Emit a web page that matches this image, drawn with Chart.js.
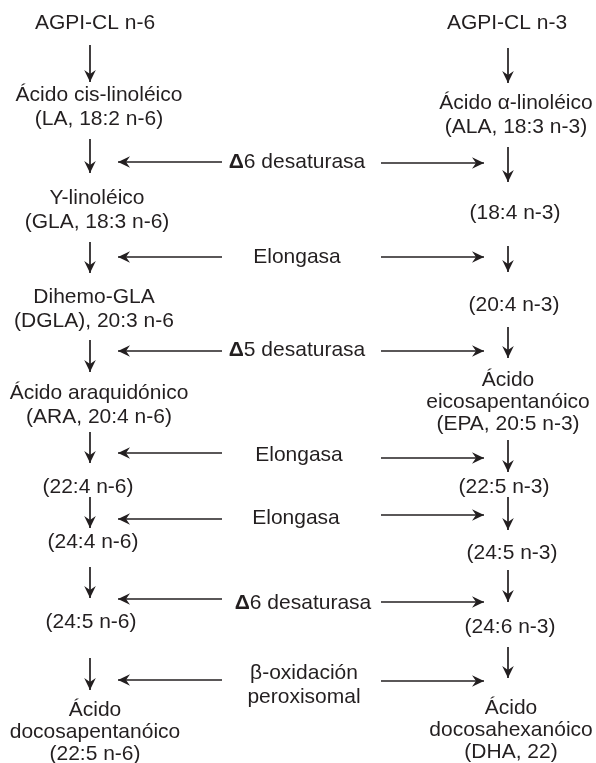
<!DOCTYPE html>
<html>
<head>
<meta charset="utf-8">
<script src="https://cdn.jsdelivr.net/npm/chart.js@4/dist/chart.umd.min.js"></script>
<style>
  html, body { margin: 0; padding: 0; background: #ffffff; }
  #chart { display: block; }
</style>
</head>
<body>
<canvas id="chart" width="596" height="763"></canvas>
<script>
// columna n-6 (izquierda)
const leftNames = ['AGPI-CL n-6', 'Ácido cis-linoléico\n(LA, 18:2 n-6)', 'Y-linoléico\n(GLA, 18:3 n-6)',
    'Dihemo-GLA\n(DGLA), 20:3 n-6', 'Ácido araquidónico\n(ARA, 20:4 n-6)', '(22:4 n-6)', '(24:4 n-6)',
    '(24:5 n-6)', 'Ácido\ndocosapentanóico\n(22:5 n-6)'];
const leftNameX = [95, 99, 97, 94, 99, 88, 93, 91, 95];
const leftNameY = [23, 95, 198, 297, 393, 487, 542, 622, 710];

// columna n-3 (derecha)
const rightNames = ['AGPI-CL n-3', 'Ácido α-linoléico\n(ALA, 18:3 n-3)', '(18:4 n-3)', '(20:4 n-3)',
    'Ácido\neicosapentanóico\n(EPA, 20:5 n-3)', '(22:5 n-3)', '(24:5 n-3)', '(24:6 n-3)',
    'Ácido\ndocosahexanóico\n(DHA, 22)'];
const rightNameX = [507, 516, 515, 514, 508, 504, 512, 510, 511];
const rightNameY = [23, 103, 213, 305, 380, 487, 553, 627, 708];

// enzimas (centro)
const enzymes = ['Δ6 desaturasa', 'Elongasa', 'Δ5 desaturasa', 'Elongasa', 'Elongasa', 'Δ6 desaturasa',
    'β-oxidación\nperoxisomal'];
const enzymeX = [297, 297, 297, 299, 296, 303, 304];
const enzymeY = [162, 257, 350, 455, 518, 603, 673];

// flechas verticales: [inicio, fin]
const leftStepX = 90;
const leftSteps = [[45, 82], [139, 173], [242, 273], [340, 372], [432, 463], [497, 528], [567, 598], [658, 690]];
const rightStepX = 508;
const rightSteps = [[48, 83], [147, 182], [246, 272], [327, 358], [440, 472], [497, 530], [570, 602], [647, 678]];

// flechas horizontales desde las enzimas
const leftArrowX = [222, 118];
const leftArrowY = [162, 257, 351, 453, 519, 599, 680];
const rightArrowX = [381, 484];
const rightArrowY = [163, 257, 351, 458, 515, 602, 681];

const INK = '#231f20';
const FONT = '"Liberation Sans", Arial, sans-serif';

const datasets = [];

function addArrow(x0, y0, x1, y1) {
    datasets.push({
        kind: 'arrow',
        data: [{ x: x0, y: y0 }, { x: x1, y: y1 }],
        showLine: true,
        borderColor: INK,
        borderWidth: 1.7,
        pointRadius: 0,
        borderCapStyle: 'butt'
    });
}

leftSteps.forEach(s => addArrow(leftStepX, s[0], leftStepX, s[1]));
rightSteps.forEach(s => addArrow(rightStepX, s[0], rightStepX, s[1]));
leftArrowY.forEach(y => addArrow(leftArrowX[0], y, leftArrowX[1], y));
rightArrowY.forEach(y => addArrow(rightArrowX[0], y, rightArrowX[1], y));

function addLabels(names, xs, ys) {
    datasets.push({
        kind: 'label',
        texts: names,
        data: names.map((n, i) => ({ x: xs[i], y: ys[i] })),
        showLine: false,
        pointRadius: 0
    });
}

addLabels(leftNames, leftNameX, leftNameY);
addLabels(rightNames, rightNameX, rightNameY);
addLabels(enzymes, enzymeX, enzymeY);

function drawHead(ctx, ax, ay, bx, by) {
    const ang = Math.atan2(by - ay, bx - ax);
    const len = 12, half = 5.8, notch = 4;
    ctx.save();
    ctx.translate(bx, by);
    ctx.rotate(ang);
    ctx.beginPath();
    ctx.moveTo(0, 0);
    ctx.lineTo(-len, -half);
    ctx.lineTo(-len + notch, 0);
    ctx.lineTo(-len, half);
    ctx.closePath();
    ctx.fillStyle = INK;
    ctx.fill();
    ctx.restore();
}

function drawLine(ctx, text, cx, cy) {
    const normal = '21px ' + FONT;
    const bold = 'bold 21px ' + FONT;
    ctx.textBaseline = 'middle';
    ctx.textAlign = 'left';
    if (text.startsWith('Δ')) {
        ctx.font = bold;
        const wd = ctx.measureText('Δ').width;
        ctx.font = normal;
        const rest = text.slice(1);
        const wr = ctx.measureText(rest).width;
        const x0 = cx - (wd + wr) / 2;
        ctx.font = bold;
        ctx.fillText('Δ', x0, cy);
        ctx.font = normal;
        ctx.fillText(rest, x0 + wd, cy);
    } else {
        ctx.font = normal;
        const w = ctx.measureText(text).width;
        ctx.fillText(text, cx - w / 2, cy);
    }
}

const diagramPlugin = {
    id: 'diagram',
    afterDatasetsDraw(chart) {
        const ctx = chart.ctx;
        ctx.save();
        ctx.fillStyle = INK;
        chart.data.datasets.forEach((ds, i) => {
            const pts = chart.getDatasetMeta(i).data;
            if (ds.kind === 'arrow') {
                const a = pts[0], b = pts[pts.length - 1];
                drawHead(ctx, a.x, a.y, b.x, b.y);
            } else if (ds.kind === 'label') {
                pts.forEach((p, j) => {
                    const lines = ds.texts[j].split('\n');
                    const gap = lines.length > 2 ? 22 : 24.5;
                    ctx.fillStyle = INK;
                    lines.forEach((ln, k) => drawLine(ctx, ln, p.x, p.y + k * gap));
                });
            }
        });
        ctx.restore();
    }
};

new Chart(document.getElementById('chart').getContext('2d'), {
    type: 'scatter',
    data: { datasets: datasets },
    options: {
        responsive: false,
        animation: false,
        layout: { padding: 0 },
        plugins: {
            legend: { display: false },
            tooltip: { enabled: false }
        },
        scales: {
            x: { type: 'linear', min: 0, max: 596, display: false },
            y: { type: 'linear', min: 0, max: 763, reverse: true, display: false }
        }
    },
    plugins: [diagramPlugin]
});
</script>
</body>
</html>
